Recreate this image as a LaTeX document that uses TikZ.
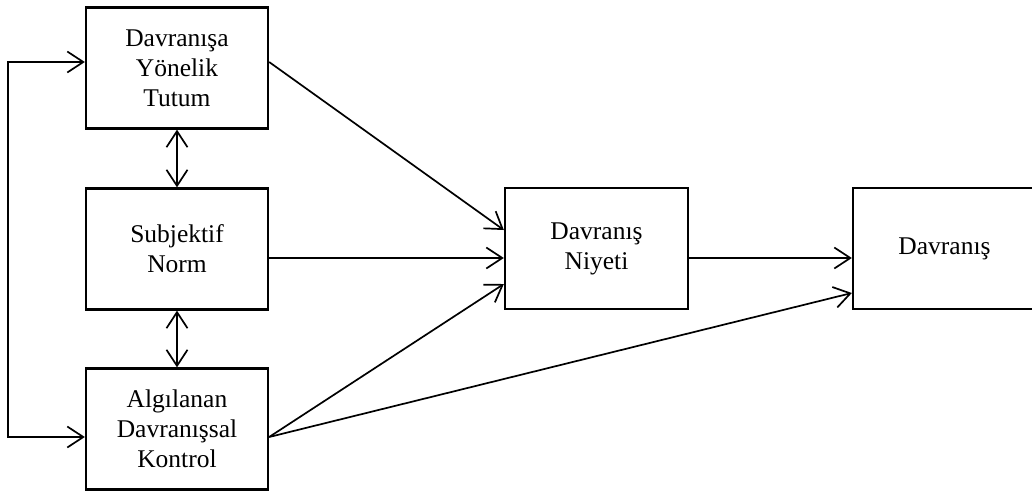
\documentclass[tikz,border=0pt]{standalone}
\usepackage{fontspec}
\setmainfont{Liberation Serif}
\usetikzlibrary{arrows.meta,calc}
\begin{document}
\begin{tikzpicture}[x=1pt,y=-1pt,
  box/.style={draw,line width=2.3pt,rectangle,minimum width=182pt,minimum height=121pt,
    align=center,inner sep=0pt,font=\fontsize{25.5}{30}\selectfont},
  conn/.style={line width=1.7pt,-{Straight Barb[length=16pt,width=21pt,line width=1.7pt]}},
  bothway/.style={line width=1.7pt,{Straight Barb[length=16pt,width=21pt,line width=1.7pt]}-{Straight Barb[length=16pt,width=21pt,line width=1.7pt]}}]
  \useasboundingbox (0,0) rectangle (1032,491);
  % the five constructs
  \node[box] (att) at (177,68) {Davranışa\\Yönelik\\Tutum};
  \node[box] (sn)  at (177,249) {Subjektif\\Norm};
  \node[box] (pbc) at (177,429) {Algılanan\\Davranışsal\\Kontrol};
  \node[box,minimum width=183pt] (int) at (596.5,248.5) {Davranış\\Niyeti};
  \node[box,minimum width=183pt] (beh) at (944.5,248.5) {Davranış};
  % corner points of the left feedback loop
  \coordinate (lt) at (8,62);
  \coordinate (lb) at (8,437);
  \draw[bothway] (att.west |- lt) -- (lt) -- (lb) -- (pbc.west |- lb);
  % correlations between the predictors
  \draw[bothway] (att.south) -- (sn.north);
  \draw[bothway] (sn.south) -- (pbc.north);
  % paths to intention and behaviour
  \draw[conn] (att.east |- 0,62) -- (int.west |- 0,230);
  \draw[conn] (sn.east |- 0,258) -- (int.west |- 0,258);
  \draw[conn] (pbc.east |- 0,437) -- (int.west |- 0,284);
  \draw[conn] (pbc.east |- 0,437) -- (beh.west |- 0,293);
  \draw[conn] (int.east |- 0,258) -- (beh.west |- 0,258);
\end{tikzpicture}
\end{document}
